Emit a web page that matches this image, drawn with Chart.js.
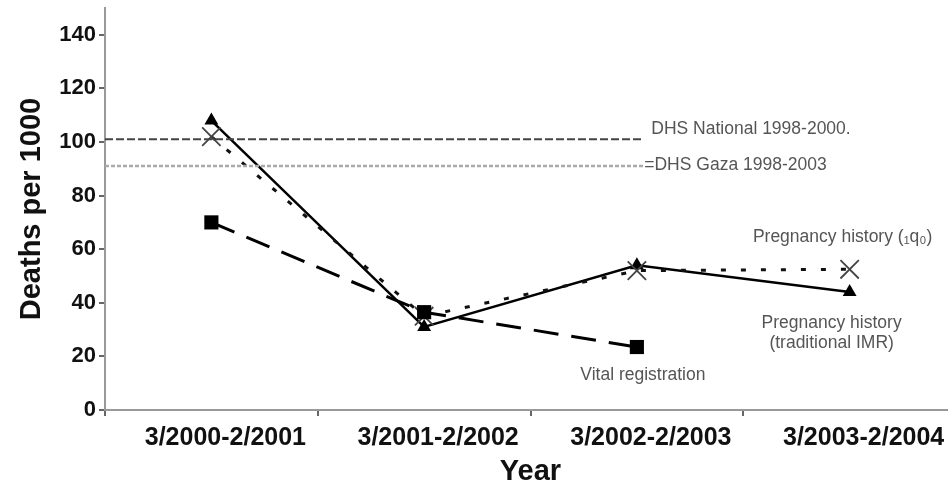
<!DOCTYPE html>
<html>
<head>
<meta charset="utf-8">
<script src="https://cdn.jsdelivr.net/npm/chart.js@4"></script>
<style>
  html, body { margin: 0; padding: 0; background: #fff; overflow: hidden; }
  #wrap { width: 956px; height: 486px; position: relative; }
</style>
</head>
<body>
<div id="wrap"><canvas id="chart"></canvas></div>
<script>
// categories (x tick labels)
const periods = ["3/2000-2/2001", "3/2001-2/2002", "3/2002-2/2003", "3/2003-2/2004"];

// series values, deaths per 1000
const imrTraditional = [108, 31, 54, 44];
const pregnancyQ0 = [102, 35, 52, 52.5];
const vitalRegistration = [70, 36.5, 23.5, null];

// DHS reference levels and the x-range they cover (in category units)
const dhsNational = 101;
const dhsGaza = 91;
const dhsSpan = [-0.5, 2.03];

const labelTexts = {
  national: "DHS National 1998-2000.",
  gaza: "=DHS Gaza 1998-2003",
  q0: "Pregnancy history (\u2081q\u2080)",
  imr: ["Pregnancy history", "(traditional IMR)"],
  vital: "Vital registration"
};

const FONT = "'Liberation Sans', Arial, sans-serif";

const notes = {
  id: "notes",
  afterDatasetsDraw(chart) {
    const ctx = chart.ctx;
    const x = chart.scales.x;
    const x2 = chart.scales.x2;
    const y = chart.scales.y;
    ctx.save();
    ctx.fillStyle = "#555";
    ctx.font = "17.5px " + FONT;
    ctx.textBaseline = "middle";

    // DHS labels at the end of the reference lines
    ctx.textAlign = "left";
    ctx.fillText(labelTexts.national, x2.getPixelForValue(dhsSpan[1]) + 8, y.getPixelForValue(dhsNational) - 10);
    ctx.fillText(labelTexts.gaza, x2.getPixelForValue(dhsSpan[1]) + 1, y.getPixelForValue(dhsGaza) - 1);

    // series labels near their last points
    ctx.textAlign = "center";
    ctx.fillText(labelTexts.q0, x.getPixelForValue(3) - 7, y.getPixelForValue(pregnancyQ0[3]) - 32);
    ctx.fillText(labelTexts.imr[0], x.getPixelForValue(3) - 18, y.getPixelForValue(imrTraditional[3]) + 31);
    ctx.fillText(labelTexts.imr[1], x.getPixelForValue(3) - 18, y.getPixelForValue(imrTraditional[3]) + 51);
    ctx.fillText(labelTexts.vital, x.getPixelForValue(2) + 6, y.getPixelForValue(vitalRegistration[2]) + 28);
    ctx.restore();
  }
};

new Chart(document.getElementById("chart"), {
  type: "line",
  data: {
    labels: periods,
    datasets: [
      {
        label: "DHS National",
        xAxisID: "x2",
        data: dhsSpan.map((v) => ({ x: v, y: dhsNational })),
        borderColor: "#444",
        borderWidth: 2,
        borderDash: [8, 3],
        pointRadius: 0,
        fill: false
      },
      {
        label: "DHS Gaza",
        xAxisID: "x2",
        data: dhsSpan.map((v) => ({ x: v, y: dhsGaza })),
        borderColor: "#aaa",
        borderWidth: 2.5,
        borderDash: [4, 2],
        pointRadius: 0,
        fill: false
      },
      {
        label: "Vital registration",
        data: vitalRegistration,
        borderColor: "#000",
        backgroundColor: "#000",
        borderWidth: 3,
        borderDash: [25, 13],
        pointStyle: "rect",
        pointRadius: 10,
        pointBorderWidth: 0,
        fill: false
      },
      {
        label: "Pregnancy history (1q0)",
        data: pregnancyQ0,
        borderColor: "#111",
        borderWidth: 3,
        borderDash: [5, 15],
        pointStyle: "crossRot",
        pointRadius: 13,
        pointBorderColor: "#444",
        pointBorderWidth: 1.8,
        fill: false
      },
      {
        label: "Pregnancy history (traditional IMR)",
        data: imrTraditional,
        borderColor: "#000",
        backgroundColor: "#000",
        borderWidth: 2.5,
        pointStyle: "triangle",
        pointRadius: 8,
        pointBorderWidth: 0,
        fill: false
      }
    ]
  },
  options: {
    responsive: true,
    maintainAspectRatio: false,
    animation: false,
    layout: { autoPadding: false, padding: { top: 8, left: 0, right: 0, bottom: 0 } },
    plugins: { legend: { display: false }, tooltip: { enabled: false } },
    scales: {
      x: {
        type: "category",
        offset: true,
        afterFit: (s) => {
          s.height = 76;
          s.paddingLeft = 0;
          s.paddingRight = 0;
        },
        border: { display: true, color: "#999", width: 2 },
        grid: { offset: true, drawOnChartArea: false, drawTicks: true, tickLength: 6, color: "#666", lineWidth: 2 },
        ticks: {
          color: "#111",
          font: { family: FONT, size: 25, weight: "bold" },
          padding: 7,
          labelOffset: 14,
          maxRotation: 0,
          autoSkip: false
        },
        title: {
          display: true,
          text: "Year",
          color: "#111",
          font: { family: FONT, size: 29, weight: "bold", lineHeight: 1 },
          padding: { top: 0, bottom: 0 }
        }
      },
      x2: {
        type: "linear",
        display: false,
        min: -0.5,
        max: 3.5
      },
      y: {
        min: 0,
        max: 150,
        afterFit: (s) => {
          s.width = 105;
          s.paddingTop = 0;
          s.paddingBottom = 0;
        },
        border: { display: true, color: "#999", width: 2 },
        grid: { drawOnChartArea: false, drawTicks: true, tickLength: 6, color: "#666", lineWidth: 2 },
        ticks: {
          stepSize: 20,
          includeBounds: false,
          color: "#111",
          font: { family: FONT, size: 22, weight: "bold" },
          padding: 3
        },
        title: {
          display: true,
          text: "Deaths per 1000",
          color: "#111",
          font: { family: FONT, size: 29, weight: "bold", lineHeight: 1 },
          padding: { top: 17, bottom: 0 }
        }
      }
    }
  },
  plugins: [notes]
});
</script>
</body>
</html>
